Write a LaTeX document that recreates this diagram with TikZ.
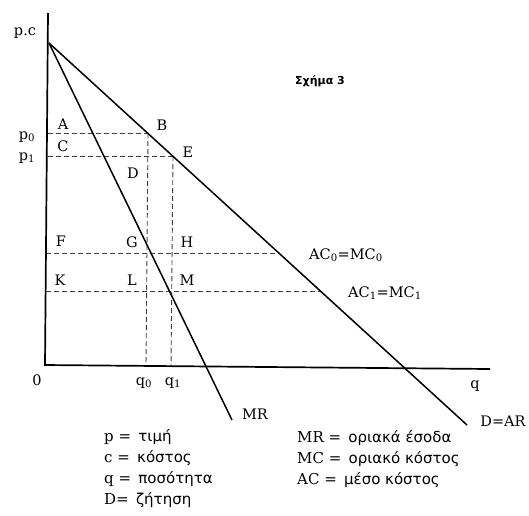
\documentclass[tikz,border=0pt]{standalone}
\usepackage{fontspec}
\setmainfont{DejaVu Serif}
\newfontfamily\grk{DejaVu Sans}
\begin{document}
\begin{tikzpicture}[x=1pt,y=-1pt,
  lbl/.style={font=\fontsize{14.5}{14.5}\selectfont, inner sep=0pt},
  leg/.style={font=\fontsize{15}{15}\selectfont, inner sep=0pt, anchor=west},
  axis/.style={line width=1.7pt},
  curve/.style={line width=1.5pt},
  guide/.style={line width=0.9pt, dash pattern=on 5pt off 3pt, black!75}]
\useasboundingbox (0,0) rectangle (529,515);
% key points
\coordinate (top) at (48,13);
\coordinate (O) at (45,365);
\coordinate (xend) at (490,369);
\coordinate (apex) at (49,43);
\coordinate (Dend) at (467,425);
\coordinate (MRend) at (232,420);
\coordinate (Bp) at (148,133);
\coordinate (Ep) at (173,156);
\coordinate (p0a) at (48,133);
\coordinate (p1a) at (48,156);
\coordinate (q0a) at (146,366);
\coordinate (q1a) at (171,366);
\coordinate (Fa) at (46,253);
\coordinate (Ka) at (46,291);
\coordinate (ac0) at (279,253);
\coordinate (ac1) at (321,291);
% guides
\draw[guide] (p0a) -- (Bp);
\draw[guide] (p1a) -- (Ep);
\draw[guide] (Bp) -- (q0a);
\draw[guide] (Ep) -- (q1a);
\draw[guide] (Fa) -- (ac0);
\draw[guide] (Ka) -- (ac1);
% axes
\draw[axis] (top) -- (O) -- (xend);
% curves
\draw[curve] (apex) -- (Dend);
\draw[curve] (apex) -- (MRend);
% labels
\node[lbl] (lpc) at (25,33) {p.c};
\node[lbl] (lp0) at (27,137) {p\textsubscript{0}};
\node[lbl] (lp1) at (27,158) {p\textsubscript{1}};
\node[lbl] (lA) at (63,124) {A};
\node[lbl] (lC) at (63,146) {C};
\node[lbl] (lB) at (162,125) {B};
\node[lbl] (lE) at (188,152) {E};
\node[lbl] (lD) at (133,173) {D};
\node[lbl] (lF) at (61,241) {F};
\node[lbl] (lG) at (132,242) {G};
\node[lbl] (lH) at (187,242) {H};
\node[lbl] (lK) at (60,280) {K};
\node[lbl] (lL) at (132,280) {L};
\node[lbl] (lM) at (187,280) {M};
\node[lbl] (l0) at (37,380) {0};
\node[lbl] (lq0) at (144,383) {q\textsubscript{0}};
\node[lbl] (lq1) at (173,383) {q\textsubscript{1}};
\node[lbl] (lq) at (475,386) {q};
\node[lbl] (lac0) at (346,255) {AC\textsubscript{0}=MC\textsubscript{0}};
\node[lbl] (lac1) at (385,293) {AC\textsubscript{1}=MC\textsubscript{1}};
\node[lbl] (lMR) at (255,414) {MR};
\node[lbl] (lDAR) at (503,421) {D=AR};
\node[inner sep=0pt, font=\grk\bfseries\fontsize{11}{11}\selectfont] (title) at (320,81) {Σχήμα 3};
% legend
\node[leg] (g1) at (104,437) {p = \,{\grk τιμή}};
\node[leg] (g2) at (104,458) {c = \,{\grk κόστος}};
\node[leg] (g3) at (104,479) {q = \,{\grk ποσότητα}};
\node[leg] (g4) at (104,500) {D= \,{\grk ζήτηση}};
\node[leg] (g5) at (297,438) {MR = \,{\grk οριακά έσοδα}};
\node[leg] (g6) at (297,459) {MC = \,{\grk οριακό κόστος}};
\node[leg] (g7) at (297,480) {AC = \,{\grk μέσο κόστος}};
\end{tikzpicture}
\end{document}
